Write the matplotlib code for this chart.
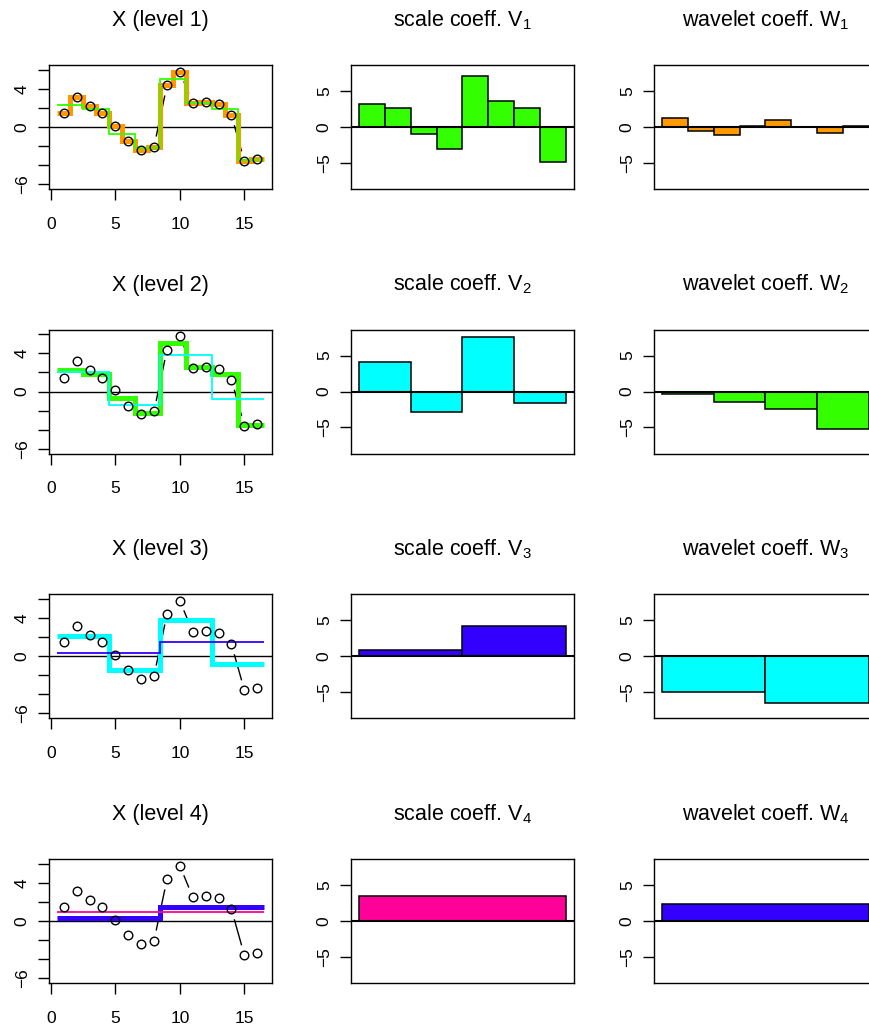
import numpy as np
import matplotlib
matplotlib.use("Agg")
import matplotlib.pyplot as plt

plt.rcParams["font.family"] = ["Liberation Sans", "DejaVu Sans"]
plt.rcParams["mathtext.fontset"] = "custom"
plt.rcParams["mathtext.rm"] = "Liberation Sans"
plt.rcParams["mathtext.it"] = "Liberation Sans:italic"
plt.rcParams["mathtext.default"] = "regular"

# R rainbow(10) picks, one per level (level 0 = raw series)
LEVEL_COLORS = ["#FF9900", "#33FF00", "#00FFFF", "#3300FF", "#FF0099"]

# observed series (16 samples)
x_obs = [1.43, 3.17, 2.20, 1.45, 0.14, -1.50, -2.37, -2.05,
         4.35, 5.77, 2.50, 2.57, 2.40, 1.22, -3.58, -3.37]

# block averages of X at each level
smooth_1 = [2.27, 1.85, -0.70, -2.20, 5.05, 2.54, 1.84, -3.47]
smooth_2 = [2.07, -1.44, 3.79, -0.83]
smooth_3 = [0.31, 1.48]
smooth_4 = [0.90]

# Haar scale / wavelet coefficients
V1 = [3.20, 2.60, -1.00, -3.10, 7.10, 3.60, 2.60, -4.90]
W1 = [1.23, -0.50, -1.15, 0.20, 1.00, 0.05, -0.85, 0.15]
V2 = [4.10, -2.90, 7.55, -1.65]
W2 = [-0.40, -1.50, -2.45, -5.25]
V3 = [0.87, 4.17]
W3 = [-4.95, -6.50]
V4 = [3.55]
W4 = [2.35]

smooths = [x_obs, smooth_1, smooth_2, smooth_3, smooth_4]
scale_coefs = [V1, V2, V3, V4]
wavelet_coefs = [W1, W2, W3, W4]

FIG_W, FIG_H = 870, 1030
COL_LEFT = [49, 351, 654]
ROW_TOP = [65, 329.5, 594, 859]
BOX_W, BOX_H = 223, 124

TICK_FS = 12.5
TITLE_FS = 15.5
MINUS = "\u2212"


def add_box(fig, col, row):
    l, t = COL_LEFT[col], ROW_TOP[row]
    ax = fig.add_axes([l / FIG_W, 1 - (t + BOX_H) / FIG_H, BOX_W / FIG_W, BOX_H / FIG_H])
    for s in ax.spines.values():
        s.set_linewidth(1.0)
    ax.tick_params(length=8, width=1.0, labelsize=TICK_FS, direction="out")
    ax.tick_params(axis="x", pad=11.9)
    ax.tick_params(axis="y", pad=5.8, labelrotation=90)
    for lab in ax.get_yticklabels():
        lab.set_verticalalignment("center")
    return ax


def title(fig, col, row, text):
    cx = COL_LEFT[col] + BOX_W / 2
    y = ROW_TOP[row] - 39
    fig.text(cx / FIG_W, 1 - y / FIG_H, text, ha="center", va="baseline",
             fontsize=TITLE_FS)


def gapped_lines(ax, xs, ys, gap_px=11):
    # type="b" style: segments between points with a gap round each point
    pts = ax.transData.transform(np.column_stack([xs, ys]))
    inv = ax.transData.inverted()
    for p, q in zip(pts[:-1], pts[1:]):
        d = q - p
        length = np.hypot(*d)
        if length > 2 * gap_px:
            u = d / length
            a = inv.transform(p + u * gap_px)
            b = inv.transform(q - u * gap_px)
            ax.plot([a[0], b[0]], [a[1], b[1]], color="black", lw=1.0, zorder=3)


def signal_panel(fig, row):
    ax = add_box(fig, 0, row)
    n = len(x_obs)
    ax.set_xlim(-0.14, 17.14)
    ax.set_ylim(-6.48, 6.48)
    ax.set_xticks([0, 5, 10, 15])
    ax.set_xticklabels(["0", "5", "10", "15"])
    yt = [-6, -4, -2, 0, 2, 4, 6]
    ax.set_yticks(yt)
    ax.set_yticklabels([MINUS + "6", "", "", "0", "", "4", ""], va="center")
    idx = np.arange(1, n + 1)

    ax.axhline(0, color="black", lw=1.0, zorder=2)
    coarse = smooths[row]
    fine = smooths[row + 1]
    e_c = np.linspace(0.5, n + 0.5, len(coarse) + 1)
    e_f = np.linspace(0.5, n + 0.5, len(fine) + 1)
    ax.stairs(coarse, e_c, baseline=None, color=LEVEL_COLORS[row], lw=3.6, zorder=4)
    ax.stairs(fine, e_f, baseline=None, color=LEVEL_COLORS[row + 1], lw=1.3, zorder=5)

    gapped_lines(ax, idx, x_obs)
    ax.plot(idx, x_obs, "o", ms=6.2, mfc="none", mec="black", mew=1.0, zorder=6)
    title(fig, 0, row, f"X (level {row + 1})")


def coef_panel(fig, col, row, values, color, label):
    ax = add_box(fig, col, row)
    n = len(values)
    ax.set_xlim(-0.04 * n, 1.04 * n)
    ax.set_ylim(-8.64, 8.64)
    ax.set_xticks([])
    ax.set_yticks([-5, 0, 5])
    ax.set_yticklabels([MINUS + "5", "0", "5"], va="center")
    ax.bar(np.arange(n) + 0.5, values, width=1.0, color=color,
           edgecolor="black", linewidth=1.1, zorder=2)
    ax.axhline(0, color="black", lw=1.5, zorder=3)
    title(fig, col, row, label)


fig = plt.figure(figsize=(FIG_W / 100, FIG_H / 100), dpi=100)
for j in range(4):
    signal_panel(fig, j)
    coef_panel(fig, 1, j, scale_coefs[j], LEVEL_COLORS[j + 1],
               f"scale coeff. V$_{{{j + 1}}}$")
    coef_panel(fig, 2, j, wavelet_coefs[j], LEVEL_COLORS[j],
               f"wavelet coeff. W$_{{{j + 1}}}$")

fig.savefig("out.png", dpi=100)
